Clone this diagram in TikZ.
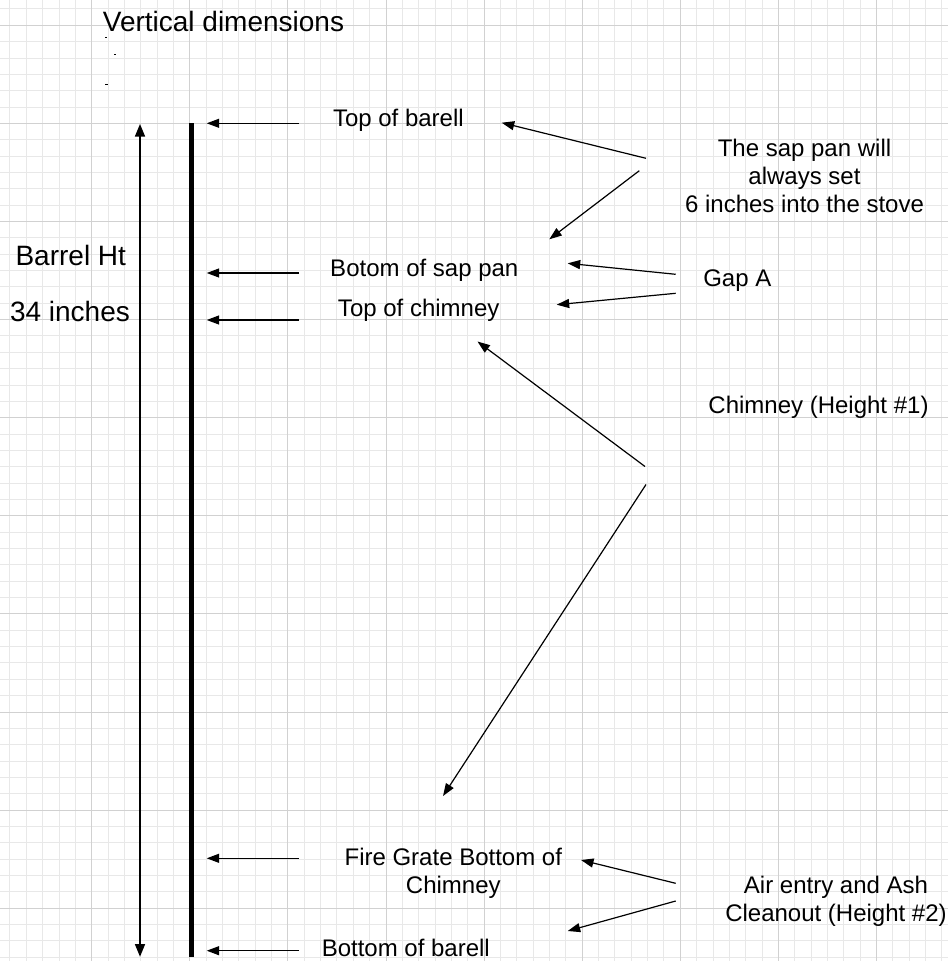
\documentclass[tikz,border=0pt]{standalone}
\usepackage{fontspec}
\setmainfont{Liberation Sans}
\usetikzlibrary{arrows.meta}

\begin{document}
\begin{tikzpicture}[x=1pt, y=-1pt,
    lbl/.style={font=\fontsize{24}{28}\selectfont, inner sep=0pt, anchor=base, align=center},
    big/.style={font=\fontsize{28}{32}\selectfont, inner sep=0pt, anchor=base},
    tip/.style={-{Triangle[length=12.5pt, width=9pt]}, line width=1.2pt},
    level/.style={-{Triangle[length=12.5pt, width=9pt]}, line width=1.3pt}]
    \def\minor{16.35} % small squares of the grid paper
    \def\major{98.1}  % big squares

    % paper and grid
    \useasboundingbox (0,0) rectangle (948,961);
    \fill[white] (0,0) rectangle (948,961);
    \foreach \i in {0,...,57}
        \draw[black!9, line width=1pt] ({9.95+\i*\minor}, 0) -- ({9.95+\i*\minor}, 961);
    \foreach \j in {0,...,58}
        \draw[black!9, line width=1pt] (0, {8.95+\j*\minor}) -- (948, {8.95+\j*\minor});
    \foreach \i in {0,...,8}
        \draw[black!18, line width=1pt] ({91.7+\i*\major}, 0) -- ({91.7+\i*\major}, 961);
    \foreach \j in {0,...,9}
        \draw[black!18, line width=1pt] (0, {25.3+\j*\major}) -- (948, {25.3+\j*\major});

    % title and stray dots
    \node[big] (title) at (223.5, 31.5) {Vertical dimensions};
    \fill (104.7,37.2) rectangle (107.4,38.2);
    \fill (113.7,53.8) rectangle (116.4,54.8);
    \fill (105.3,83.5) rectangle (108,84.5);

    % barrel wall and its height
    \coordinate (ht top) at (140,124);
    \coordinate (ht bot) at (140,956.7);
    \draw[{Triangle[length=12.5pt, width=10pt]}-{Triangle[length=12.5pt, width=10pt]}, line width=1.3pt] (ht top) -- (ht bot);
    \draw[line width=5.3pt] (191.7,123.3) -- (191.7,956.7);
    \node[big] (barrel ht) at (70.8,265) {Barrel Ht};
    \node[big] (inches) at (70,321.7) {34 inches};

    % levels on the wall
    \foreach \n/\y in {top/123.3, pan/273, chim/320, grate/858.3, bot/950.7} {
        \coordinate (\n-s) at (299,\y);
        \coordinate (\n-e) at (206.7,\y);
        \draw[level] (\n-s) -- (\n-e);
    }
    \node[lbl] (top barell) at (398.4,126.7) {Top of barell};
    \node[lbl] (sap pan) at (424.3,276) {Botom of sap pan};
    \node[lbl] (top chimney) at (418.7,316.5) {Top of chimney};
    \node[lbl] (fire grate) at (453.3,893.3) {Fire Grate Bottom of\\Chimney};
    \node[lbl] (bot barell) at (405.8,956.5) {Bottom of barell};

    % notes on the right
    \node[lbl] (pan note) at (804.5,212.7) {The sap pan will\\always set\\6 inches into the stove};
    \node[lbl] (gap a) at (737.3,286.7) {Gap A};
    \node[lbl] (chimney ht) at (818.5,413) {Chimney (Height \#1)};
    \node[lbl] (air entry) at (836,921.7) {Air entry and Ash\\Cleanout (Height \#2)};

    % note arrows
    \coordinate (pan a) at (646,158.3);
    \coordinate (pan b) at (639.3,170.7);
    \coordinate (gap a1) at (675.7,274.3);
    \coordinate (gap a2) at (675.7,293.3);
    \coordinate (chim a) at (645,466.5);
    \coordinate (chim b) at (646,484.5);
    \coordinate (air a) at (675.7,883.3);
    \coordinate (air b) at (675.7,901);
    \draw[tip] (pan a) -- (501.7,122.7);
    \draw[tip] (pan b) -- (549.3,239.3);
    \draw[tip] (gap a1) -- (567.7,263.3);
    \draw[tip] (gap a2) -- (556.7,304.7);
    \draw[tip] (chim a) -- (477.5,341.5);
    \draw[tip] (chim b) -- (443,796);
    \draw[tip] (air a) -- (581,860);
    \draw[tip] (air b) -- (567.7,931);
\end{tikzpicture}
\end{document}
